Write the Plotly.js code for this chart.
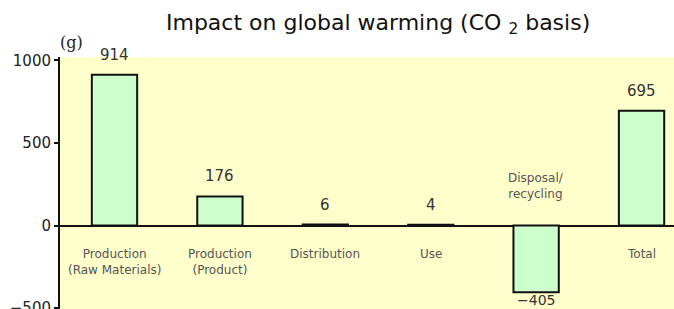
<!DOCTYPE html>
<html>
<head>
<meta charset="utf-8">
<script src="https://cdn.plot.ly/plotly-3.0.1.min.js"></script>
<style>html,body{margin:0;padding:0;background:#fff;}#chart{width:674px;height:309px;}</style>
</head>
<body>
<div id="chart"></div>
<script>
const categories = ["Production<br>(Raw Materials)", "Production<br>(Product)", "Distribution", "Use", "Disposal/<br>recycling", "Total"];
const values = [914, 176, 6, 4, -405, 695];
const valueLabels = ["914", "176", "6", "4", "\u2212405", "695"];
const yTicks = [1000, 500, 0, -500];
const yTickText = ["1000", "500", "0", "\u2212500"];

const xIdx = categories.map((_, i) => i);

const trace = {
  type: "bar",
  x: xIdx,
  y: values,
  width: 0.43,
  marker: { color: "#CCFFCC", line: { color: "#111", width: 2 } },
  hoverinfo: "skip"
};

const annotations = [];
values.forEach((v, i) => {
  annotations.push({
    x: i, y: v, xref: "x", yref: "y",
    text: valueLabels[i], showarrow: false,
    yanchor: v >= 0 ? "bottom" : "top",
    yshift: v >= 0 ? 10 : 1,
    borderpad: 0,
    font: { family: "DejaVu Sans", size: v >= 0 ? 15 : 14, color: "#333" }
  });
  annotations.push({
    x: i, y: v >= 0 ? -118 : 136, xref: "x", yref: "y",
    text: categories[i], showarrow: false,
    yanchor: v >= 0 ? "top" : "bottom",
    font: { family: "DejaVu Sans", size: 12, color: "#555" }
  });
});
annotations.push({
  x: 0.018, y: 1.056, xref: "paper", yref: "paper",
  text: "(g)", showarrow: false, xanchor: "center", yanchor: "middle",
  font: { family: "DejaVu Serif", size: 16, color: "#222" }
});

const layout = {
  width: 674, height: 309,
  margin: { l: 60, r: 0, t: 57, b: 0 },
  paper_bgcolor: "#ffffff",
  plot_bgcolor: "#FFFFCC",
  showlegend: false,
  title: {
    text: "Impact on global warming (CO <sub>2</sub> basis)",
    xref: "container", yref: "container",
    x: 0.561, xanchor: "center", y: 0.929, yanchor: "middle",
    font: { family: "DejaVu Sans", size: 22, color: "#111" }
  },
  xaxis: {
    range: [-0.517, 5.308],
    showticklabels: false, ticks: "", showgrid: false,
    zeroline: false, showline: false, fixedrange: true
  },
  yaxis: {
    range: [-506, 1021],
    tickvals: yTicks, ticktext: yTickText,
    ticks: "outside", ticklen: 4, tickwidth: 2, tickcolor: "#111",
    ticklabeloverflow: "allow",
    showline: true, linecolor: "#111", linewidth: 2,
    showgrid: false,
    zeroline: true, zerolinecolor: "#111", zerolinewidth: 2,
    tickfont: { family: "DejaVu Sans", size: 15, color: "#222" }
  },
  annotations: annotations
};

Plotly.newPlot("chart", [trace], layout, { staticPlot: true, displayModeBar: false });
</script>
</body>
</html>
